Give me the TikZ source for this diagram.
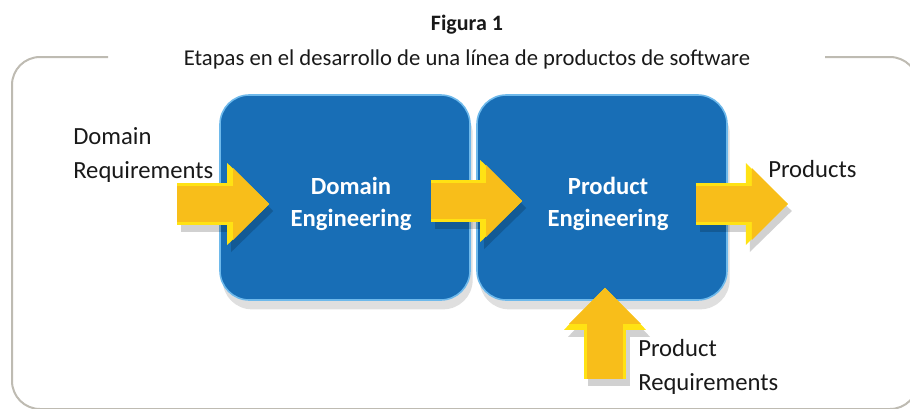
\documentclass[tikz,border=0pt]{standalone}
\usepackage{fontspec}
\setmainfont{Carlito}
\usetikzlibrary{arrows.meta,shadows,calc}

\definecolor{engblue}{RGB}{24,110,182}
\definecolor{engrim}{RGB}{110,185,235}
\definecolor{arrowgold}{RGB}{248,190,26}
\definecolor{arrowlight}{RGB}{255,226,20}
\definecolor{framegray}{RGB}{190,187,178}
\definecolor{textblack}{RGB}{25,25,25}

\tikzset{
  engbox/.style={draw=engrim, line width=1.2pt, fill=engblue, rounded corners=22pt,
    minimum width=187.5pt, minimum height=153.75pt, inner sep=0pt,
    drop shadow={shadow xshift=2pt, shadow yshift=-7pt, opacity=0.25}},
  englbl/.style={text=white, align=center, inner sep=0pt,
    font=\fontsize{18.5}{24}\selectfont\bfseries},
  lbl/.style={anchor=west, inner sep=0pt, align=left, text=textblack,
    font=\fontsize{18.5}{25.5}\selectfont},
  yarrow/.style={draw=arrowgold, line width=27pt,
    -{Triangle[length=27pt, width=54pt, line width=0pt]},
    preaction={draw=black, opacity=0.18, line width=31.5pt,
      -{Triangle[length=31.5pt, width=61.5pt, line width=0pt]},
      transform canvas={shift={(4,7)}}},
    preaction={draw=arrowlight, line width=31.5pt,
      -{Triangle[length=31.5pt, width=61.5pt, line width=0pt]}}},
}

\begin{document}
\begin{tikzpicture}[x=0.75pt, y=-0.75pt]
\useasboundingbox (0,0) rectangle (910,408);

% Frame round the figure
\draw[framegray, line width=1.5pt, rounded corners=21pt]
  (108,57) -- (12,57) -- (12,409) -- (918,409) -- (918,57) -- (825,57);

% Title and caption
\node[text=textblack, font=\fontsize{16.5}{20}\selectfont\bfseries] (fig) at (467,25) {Figura 1};
\node[text=textblack, font=\fontsize{17}{20}\selectfont] (caption) at (467,59)
  {Etapas en el desarrollo de una línea de productos de software};

% Engineering stages
\node[engbox] (deng) at (345,197.5) {};
\node[engbox] (peng) at (602,197.5) {};
\node[englbl] (denglbl) at ($(deng)+(6,6)$) {Domain\\Engineering};
\node[englbl] (penglbl) at ($(peng)+(6,6)$) {Product\\Engineering};

% Inputs and outputs
\node[lbl] (dreq) at (73,155) {Domain\\Requirements};
\node[lbl] (prod) at (768,169) {Products};
\node[lbl] (preq) at (638,367) {Product\\Requirements};

% Flow arrows
\draw[yarrow] ($(deng.west)+(-42,6.5)$) -- ($(deng.west)+(50,6.5)$);
\draw[yarrow] ($(deng.east)+(-40,3.5)$) -- ($(peng.west)+(46,3.5)$);
\draw[yarrow] ($(peng.east)+(-32,6.5)$) -- ($(peng.east)+(60,6.5)$);
\draw[yarrow] ($(peng.south)+(3,78)$) -- ($(peng.south)+(3,-13)$);

\end{tikzpicture}
\end{document}
